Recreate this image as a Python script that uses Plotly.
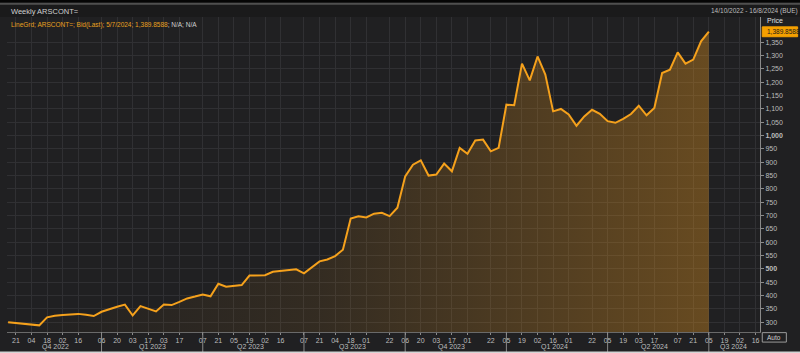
import pandas as pd
import plotly.graph_objects as go

# ---- data ----
start_date = "2022-10-14"
n_weeks = 91
prices = [
    300, 297, 294, 291, 288, 318, 324, 327, 329, 331,
    328, 323, 339, 349, 358, 366, 325, 360, 350, 340,
    366, 364, 376, 389, 396, 404, 397, 444, 433, 436,
    439, 475, 475, 476, 489, 492, 495, 498, 483, 505,
    528, 535, 548, 572, 689, 697, 693, 707, 710, 698,
    729, 847, 891, 907, 850, 854, 895, 866, 954, 932,
    982, 985, 941, 954, 1116, 1114, 1270, 1207, 1297, 1229,
    1091, 1100, 1079, 1037, 1072, 1097, 1082, 1054, 1048, 1063,
    1081, 1112, 1076, 1104, 1235, 1247, 1312, 1270, 1285, 1354,
    1389.8588,
]
dates = pd.date_range(start_date, periods=n_weeks, freq="7D")

tick_dates = [
    "2022-10-21", "2022-11-04", "2022-11-18", "2022-12-02", "2022-12-16",
    "2023-01-06", "2023-01-20", "2023-02-03", "2023-02-17", "2023-03-03", "2023-03-17",
    "2023-04-07", "2023-04-21", "2023-05-05", "2023-05-19", "2023-06-02", "2023-06-16",
    "2023-07-07", "2023-07-21", "2023-08-04", "2023-08-18", "2023-09-01", "2023-09-22",
    "2023-10-06", "2023-10-20", "2023-11-03", "2023-11-17", "2023-12-01", "2023-12-22",
    "2024-01-05", "2024-01-19", "2024-02-02", "2024-02-16", "2024-03-01", "2024-03-22",
    "2024-04-05", "2024-04-19", "2024-05-03", "2024-05-17", "2024-06-07", "2024-06-21",
    "2024-07-05", "2024-07-19", "2024-08-02", "2024-08-16",
]
tick_labels = [d[-2:] for d in tick_dates]

quarter_labels = ["Q4 2022", "Q1 2023", "Q2 2023", "Q3 2023", "Q4 2023", "Q1 2024", "Q2 2024", "Q3 2024"]
quarter_label_pos = ["2022-11-26", "2023-02-21", "2023-05-20", "2023-08-20", "2023-11-17",
                     "2024-02-17", "2024-05-17", "2024-07-27"]
quarter_separators = ["2023-01-06", "2023-04-07", "2023-07-07", "2023-10-06",
                      "2024-01-05", "2024-04-05", "2024-07-05"]

y_ticks = list(range(300, 1351, 50))
y_ticktext = [f"<b>{v:,}</b>" if v in (500, 1000) else f"{v:,}" for v in y_ticks]

x_range = ["2022-10-13", "2024-08-20"]
y_range = [263, 1445]

BG = "#202022"
GRID = "#303033"
ORANGE = "#f5a11c"
TXT = "#bdbdbd"
FONT = "Liberation Sans, Arial, sans-serif"

fig = go.Figure()
fig.add_trace(go.Scatter(
    x=dates, y=prices, mode="lines",
    line=dict(color=ORANGE, width=2),
    fill="tozeroy",
    fillgradient=dict(type="horizontal",
                      colorscale=[[0, "rgba(230,150,30,0.0)"],
                                  [0.45, "rgba(230,150,30,0.10)"],
                                  [1, "rgba(230,150,30,0.36)"]]),
    hoverinfo="x+y", showlegend=False,
))

shapes = []
for d in quarter_separators:
    shapes.append(dict(type="line", xref="x", yref="paper", x0=d, x1=d, y0=0, y1=-0.065,
                       line=dict(color="#8a8a8a", width=1)))
# header band
shapes.append(dict(type="rect", xref="paper", yref="paper", x0=-0.02, x1=1.06, y0=1.0, y1=1.04,
                   fillcolor="#1a1a1b", line_width=0, layer="below"))
shapes.append(dict(type="rect", xref="paper", yref="paper", x0=-0.02, x1=1.06, y0=1.045, y1=1.07,
                   fillcolor="#050505", line_width=0))
shapes.append(dict(type="line", xref="paper", yref="paper", x0=-0.02, x1=1.06, y0=1.042, y1=1.042,
                   line=dict(color="#4f4f4f", width=2)))
# bottom light strip
shapes.append(dict(type="rect", xref="paper", yref="paper", x0=-0.02, x1=1.06, y0=-0.062, y1=-0.1,
                   fillcolor="#d4d4d4", line_width=0))
# price box
shapes.append(dict(type="rect", xref="paper", yref="y", x0=1.003, x1=1.05, y0=1371, y1=1408,
                   fillcolor="#f5a000", line=dict(color="#f5a000", width=1)))
# Auto box
shapes.append(dict(type="rect", xref="paper", yref="paper", x0=1.003, x1=1.035, y0=-0.002, y1=-0.032,
                   fillcolor=BG, line=dict(color="#9a9a9a", width=1)))

annotations = []
for lab, pos in zip(quarter_labels, quarter_label_pos):
    annotations.append(dict(x=pos, y=-0.048, xref="x", yref="paper", text=lab, showarrow=False,
                            font=dict(size=7, color=TXT, family=FONT), yanchor="middle"))
annotations += [
    dict(x=0.002, y=1.019, xref="paper", yref="paper", text="Weekly ARSCONT=", showarrow=False,
         xanchor="left", yanchor="middle", font=dict(size=7.5, color="#cfcfcf", family=FONT)),
    dict(x=0.002, y=0.993, xref="paper", yref="paper",
         text="<span style='color:#e8a020'>LineGrd; ARSCONT=; Bid(Last); 5/7/2024; 1,389.8588</span>"
              "<span style='color:#d0d0d0'>; N/A; N/A</span>",
         showarrow=False, xanchor="left", yanchor="top", font=dict(size=6.5, family=FONT)),
    dict(x=1.053, y=1.019, xref="paper", yref="paper", text="14/10/2022 - 16/8/2024 (BUE)",
         showarrow=False, xanchor="right", yanchor="middle", font=dict(size=6.5, color="#bdbdbd", family=FONT)),
    dict(x=1.007, y=0.99, xref="paper", yref="paper", text="Price", showarrow=False,
         xanchor="left", yanchor="middle", font=dict(size=7, color="#e0e0e0", family=FONT)),
    dict(x=1.007, y=1389.86, xref="paper", yref="y", text="1,389.8588", showarrow=False,
         xanchor="left", yanchor="middle", font=dict(size=6.5, color="#1a1a1a", family=FONT)),
    dict(x=1.019, y=-0.017, xref="paper", yref="paper", text="Auto", showarrow=False,
         xanchor="center", yanchor="middle", font=dict(size=6.5, color="#d0d0d0", family=FONT)),
]

fig.update_layout(
    width=800, height=353,
    margin=dict(l=7, r=40, t=17, b=21),
    paper_bgcolor=BG, plot_bgcolor=BG,
    font=dict(family=FONT, color=TXT, size=7),
    shapes=shapes, annotations=annotations,
    xaxis=dict(range=x_range, tickmode="array", tickvals=tick_dates, ticktext=tick_labels,
               showgrid=True, gridcolor=GRID, gridwidth=1, ticks="outside", ticklen=2,
               tickcolor="#8a8a8a", showline=True, linecolor="#6a6a6a", zeroline=False,
               tickfont=dict(size=7, color=TXT)),
    yaxis=dict(range=y_range, side="right", tickmode="array", tickvals=y_ticks, ticktext=y_ticktext,
               showgrid=True, gridcolor=GRID, gridwidth=1, ticks="outside", ticklen=3,
               tickcolor="#8a8a8a", showline=True, linecolor="#8a8a8a", zeroline=False,
               tickfont=dict(size=7, color=TXT)),
)

fig.write_html("out.html")
